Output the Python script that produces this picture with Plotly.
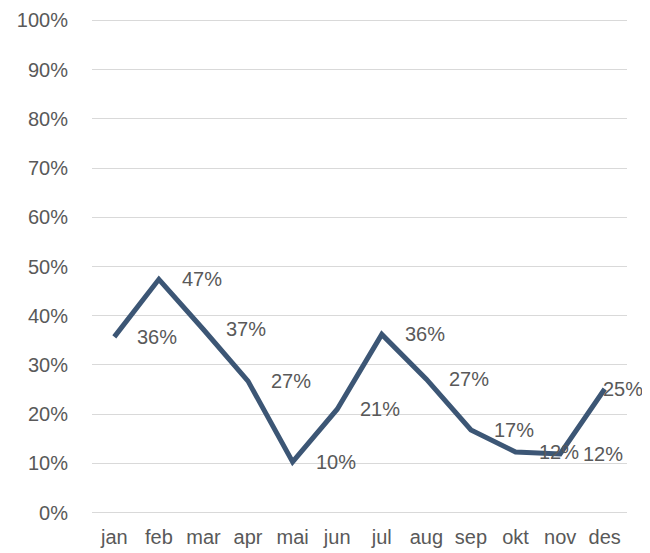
import plotly.graph_objects as go

# Months (Norwegian) and monthly share
months = ["jan", "feb", "mar", "apr", "mai", "jun", "jul", "aug", "sep", "okt", "nov", "des"]
values = [0.357, 0.474, 0.372, 0.267, 0.103, 0.21, 0.362, 0.271, 0.168, 0.123, 0.119, 0.251]
y_ticks = [0, 0.1, 0.2, 0.3, 0.4, 0.5, 0.6, 0.7, 0.8, 0.9, 1.0]

line_color = "#3c5675"
text_color = "#595959"
font_family = "Liberation Sans, Arial, sans-serif"
font_size = 20

fig = go.Figure(go.Scatter(
    x=months,
    y=values,
    mode="lines",
    line=dict(color=line_color, width=5),
    hovertemplate="%{x}: %{y:.0%}<extra></extra>",
))

# data labels sit to the right of each point (last one tucked in)
for i, (m, v) in enumerate(zip(months, values)):
    fig.add_annotation(
        x=m, y=v, text=f"{v:.0%}",
        showarrow=False, xanchor="left", yanchor="middle",
        xshift=-4 if i == len(months) - 1 else 21,
        font=dict(size=font_size, color=text_color, family=font_family),
    )

# page body adds an 8px margin; the figure runs to the window's edge
fig.update_layout(
    width=642,
    height=545,
    margin=dict(l=84, r=23, t=10, b=38),
    paper_bgcolor="white",
    plot_bgcolor="white",
    showlegend=False,
    font=dict(family=font_family, size=font_size, color=text_color),
)
fig.update_xaxes(
    type="category",
    range=[-0.5, 11.5],
    automargin=False,
    showgrid=False,
    showline=False,
    ticks="",
    ticklabelstandoff=8,
    ticklabeloverflow="allow",
    tickfont=dict(size=font_size, color=text_color),
)
# small padding so the 0% and 100% gridlines are not dropped at the edges
fig.update_yaxes(
    range=[-0.005, 1.005],
    tickvals=y_ticks,
    tickformat=".0%",
    automargin=False,
    showgrid=True,
    gridcolor="#d9d9d9",
    gridwidth=1.3,
    zeroline=False,
    showline=False,
    ticks="",
    ticklabelstandoff=23,
    ticklabeloverflow="allow",
    tickfont=dict(size=font_size, color=text_color),
)

fig.write_html("out.html")
